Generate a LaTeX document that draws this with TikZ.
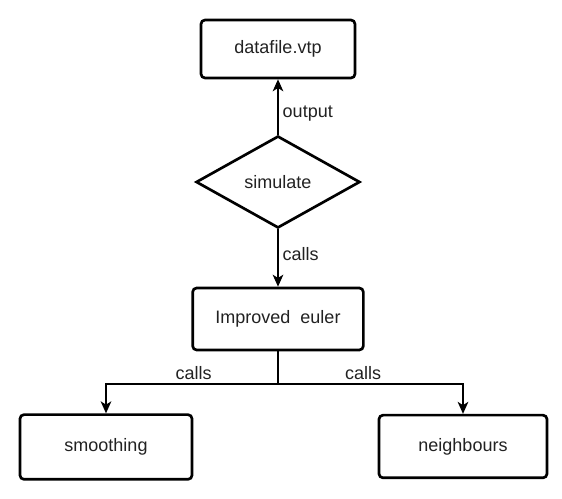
\documentclass[tikz,border=0pt]{standalone}
\usepackage{fontspec}
\setmainfont{Liberation Sans}
\usepackage{xcolor}
\usepackage{tikz}
\usetikzlibrary{arrows.meta,shapes.geometric}
\definecolor{bg}{HTML}{FFFFFF}
\definecolor{ink}{HTML}{000000}
\definecolor{text}{HTML}{222222}
\tikzset{
  box/.style={draw=ink, line width=2pt, rounded corners=3pt, inner sep=0pt,
    text=text, font=\fontsize{13.5}{15}\selectfont},
  dec/.style={draw=ink, line width=2pt, shape=diamond, inner sep=0pt,
    text=text, font=\fontsize{13.5}{15}\selectfont},
  conn/.style={draw=ink, line width=1.1pt, -{Stealth[length=9pt,width=8pt,inset=2.5pt]}},
  lab/.style={text=text, font=\fontsize{13.5}{15}\selectfont, inner sep=3pt}
}
\begin{document}
\begin{tikzpicture}[x=0.75pt, y=-0.75pt]
  \useasboundingbox[fill=bg] (0,0) rectangle (562,499);
  % boxes
  \node[box, minimum width=115.5pt, minimum height=43.5pt] (data) at (278,49) {datafile.vtp};
  \node[dec, minimum width=123pt, minimum height=69pt, aspect=1.78] (sim) at (278,182) {simulate};
  \node[box, minimum width=128pt, minimum height=46.5pt] (euler) at (278,319) {Improved\ \ euler};
  \node[box, minimum width=129pt, minimum height=48.5pt] (smooth) at (106,447) {smoothing};
  \node[box, minimum width=126pt, minimum height=47pt] (neigh) at (463,446.5) {neighbours};
  \coordinate (split) at (278,384);
  % connectors
  \draw[conn] (sim.north) -- (data.south) node[lab, right, pos=0.39] {output};
  \draw[conn] (sim.south) -- (euler.north) node[lab, right, pos=0.43] {calls};
  \draw[draw=ink, line width=1.1pt] (euler.south) -- (split);
  \draw[conn] (split) -| (smooth.north) node[lab, above, pos=0.245] {calls};
  \draw[conn] (split) -| (neigh.north) node[lab, above, pos=0.23] {calls};
\end{tikzpicture}
\end{document}
